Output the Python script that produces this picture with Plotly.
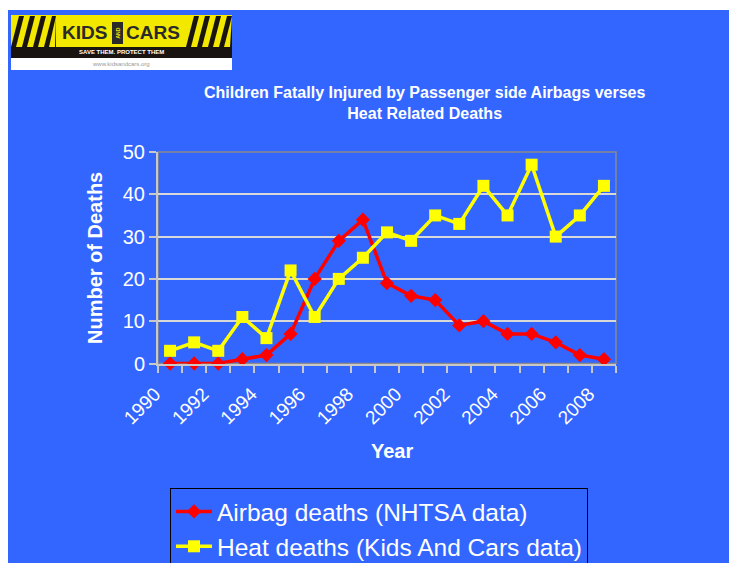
import plotly.graph_objects as go

years = list(range(1990, 2009))
airbag_deaths = [0, 0, 0, 1, 2, 7, 20, 29, 34, 19, 16, 15, 9, 10, 7, 7, 5, 2, 1]
heat_deaths = [3, 5, 3, 11, 6, 22, 11, 20, 25, 31, 29, 35, 33, 42, 35, 47, 30, 35, 42]
x_tick_vals = list(range(1990, 2009, 2))
x_tick_text = [str(v) for v in x_tick_vals]
y_tick_vals = [0, 10, 20, 30, 40, 50]

# the page body adds an 8px margin, so the figure fills the rest of the window
OFF = 8
W, H = 737 - OFF, 563 - OFF
BLUE = "#3366FF"

def px(x):
    return (x - OFF) / W

def py(y):
    return 1 - (y - OFF) / H

fig = go.Figure()
fig.add_trace(go.Scatter(
    x=years, y=airbag_deaths, mode="lines+markers",
    name="Airbag deaths (NHTSA data)",
    line=dict(color="#FF0000", width=3.5),
    marker=dict(symbol="diamond", size=11, color="#FF0000"),
    cliponaxis=False,
))
fig.add_trace(go.Scatter(
    x=years, y=heat_deaths, mode="lines+markers",
    name="Heat deaths (Kids And Cars data)",
    line=dict(color="#FFFF00", width=3.5),
    marker=dict(symbol="square", size=12, color="#FFFF00"),
    cliponaxis=False,
))

shapes = []
# blue slide background
shapes.append(dict(type="rect", xref="paper", yref="paper", x0=0, x1=1, y0=0, y1=py(10),
                   fillcolor=BLUE, line=dict(width=0), layer="below"))
# plot frame (top/right gray)
shapes.append(dict(type="rect", xref="x domain", yref="y domain", x0=0, x1=1, y0=0, y1=1,
                   line=dict(color="#8A8A8A", width=1.5), layer="below"))

# logo
shapes.append(dict(type="rect", xref="paper", yref="paper", x0=px(11), x1=px(232), y0=py(70), y1=py(15),
                   fillcolor="white", line=dict(width=0), layer="above"))
shapes.append(dict(type="rect", xref="paper", yref="paper", x0=px(11), x1=px(232), y0=py(48), y1=py(15),
                   fillcolor="#F2E800", line=dict(width=0), layer="above"))
shapes.append(dict(type="rect", xref="paper", yref="paper", x0=px(11), x1=px(232), y0=py(58), y1=py(47),
                   fillcolor="#1A1410", line=dict(width=0), layer="above"))
for start, stop in [(11, 56), (186, 232)]:
    x = start
    while x < stop:
        x0 = x
        x1 = min(x + 5, stop)
        path = "M {a},{b} L {c},{d} L {e},{f} L {g},{h} Z".format(
            a=px(x0), b=py(47), c=px(x1), d=py(47),
            e=px(min(x1 + 8, stop)), f=py(16), g=px(min(x0 + 8, stop)), h=py(16))
        shapes.append(dict(type="path", xref="paper", yref="paper", path=path,
                           fillcolor="#1A1410", line=dict(width=0), layer="above"))
        x += 11
# small "AND" box
shapes.append(dict(type="rect", xref="paper", yref="paper", x0=px(112), x1=px(123), y0=py(44), y1=py(22),
                   fillcolor="#2A2A2A", line=dict(width=0), layer="above"))

def note(text, x, y, size, color, **kw):
    return dict(text=text, x=px(x), y=py(y), xref="paper", yref="paper",
                xanchor="center", yanchor="middle", showarrow=False,
                font=dict(family="Arial", size=size, color=color), **kw)

annotations = [
    note("<b>KIDS</b>", 84, 32, 19, "#2A2A2A"),
    note("<b>CARS</b>", 153, 32, 19, "#2A2A2A"),
    note("<b>AND</b>", 117.5, 33, 5, "#F2E800", textangle=-90, borderpad=0),
    note("<b>SAVE THEM. PROTECT THEM</b>", 121, 52.5, 6, "white", borderpad=0),
    note("www.kidsandcars.org", 121, 64.5, 6, "#999999", borderpad=0),
    note("<b>Children Fatally Injured by Passenger side Airbags verses<br>Heat Related Deaths</b>",
         424, 102.5, 16, "white", align="center"),
    note("<b>Number of Deaths</b>", 95, 258, 20, "white", textangle=-90),
    note("<b>Year</b>", 392, 451, 20, "white"),
]

fig.update_layout(
    width=W, height=H,
    margin=dict(l=0, r=0, t=0, b=0, autoexpand=False),
    paper_bgcolor="white",
    plot_bgcolor=BLUE,
    font=dict(family="Arial", color="white"),
    shapes=shapes,
    annotations=annotations,
    showlegend=True,
    legend=dict(
        x=px(170), y=py(488), xanchor="left", yanchor="top",
        bgcolor=BLUE, bordercolor="black", borderwidth=1,
        font=dict(family="Arial", size=24.5, color="white"),
        itemwidth=36, tracegroupgap=0,
    ),
    xaxis=dict(
        domain=[px(158), px(616)],
        range=[1989.5, 2008.5],
        tickvals=x_tick_vals, ticktext=x_tick_text,
        tickangle=-45,
        ticks="outside", ticklen=10, tickcolor="rgba(0,0,0,0)",
        ticklabelshift=-15,
        tickfont=dict(family="Arial", size=19, color="white"),
        showgrid=False, zeroline=False,
        showline=True, linecolor="#C8C8C8", linewidth=2,
        minor=dict(tick0=1989.5, dtick=1, ticks="outside", ticklen=7, tickcolor="#C8C8C8", tickwidth=1.5, showgrid=False),
        fixedrange=True,
    ),
    yaxis=dict(
        domain=[py(363.5), py(152)],
        range=[0, 50],
        tickvals=y_tick_vals,
        ticks="outside", ticklen=7, tickcolor="#C8C8C8", tickwidth=1.5,
        tickfont=dict(family="Arial", size=20, color="white"),
        showgrid=True, gridcolor="#D8D8D8", gridwidth=1.5,
        zeroline=False,
        showline=True, linecolor="#C8C8C8", linewidth=2,
        fixedrange=True,
    ),
)

fig.write_html("out.html")
